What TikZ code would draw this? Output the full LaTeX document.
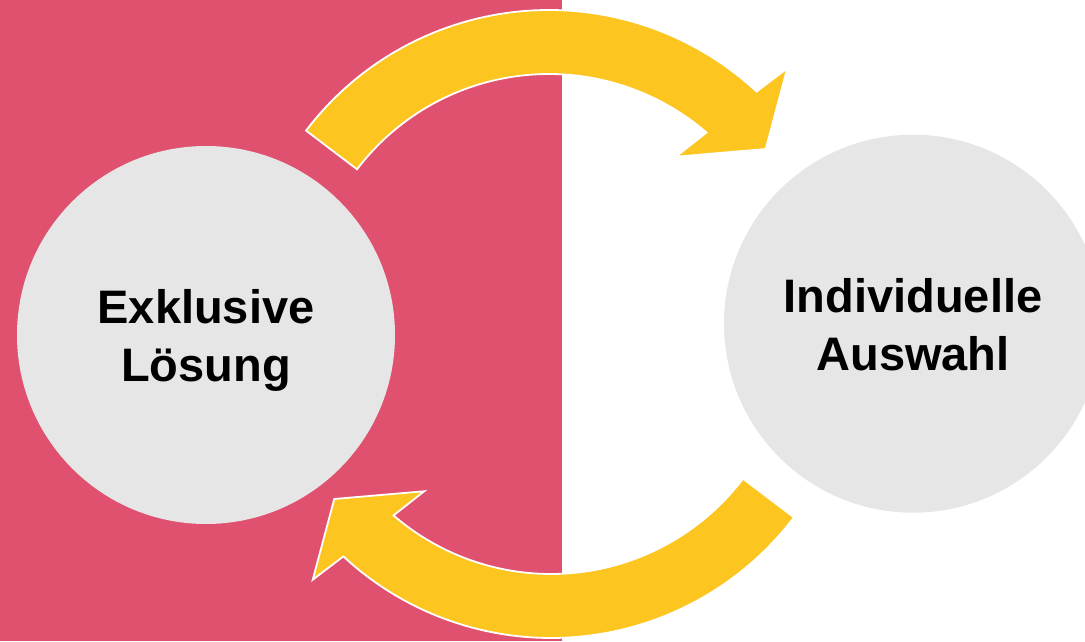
\documentclass[tikz,border=0pt]{standalone}
\usepackage{fontspec}
\setmainfont{Liberation Sans}
\definecolor{pinkbg}{HTML}{E0516F}
\definecolor{arrowyellow}{HTML}{FCC520}
\definecolor{circlegray}{HTML}{E6E6E6}
\tikzset{
  bigarrow/.pic={
    \path[fill=arrowyellow, draw=white, line width=1.8pt, line join=miter]
      (142.8:305) arc[start angle=142.8, end angle=47.1, radius=305]
      -- (46.0:343) -- (37.45:273) -- (51.3:202.8) -- (49.2:241)
      arc[start angle=49.2, end angle=142.8, radius=241] -- cycle;
  },
  bubble/.style={circle, fill=circlegray, minimum size=378pt, inner sep=0pt},
  bubbletext/.style={font=\fontsize{47}{56}\selectfont\bfseries, text=black, anchor=base, inner sep=0pt}
}
\begin{document}
\begin{tikzpicture}[x=1pt, y=1pt]
  \useasboundingbox (0,0) rectangle (1085,641);
  \clip (0,0) rectangle (1085,641);
  \fill[pinkbg] (0,0) rectangle (561.7,641);
  \node[bubble] (left) at (206,306) {};
  \node[bubble] (right) at (913,317.3) {};
  \pic at (549,326) {bigarrow};
  \pic[rotate=180] at (551,308) {bigarrow};
  \node[bubbletext] (l1) at (206,317) {Exklusive};
  \node[bubbletext] (l2) at (206,259.3) {Lösung};
  \node[bubbletext] (r1) at (913,328.3) {Individuelle};
  \node[bubbletext] (r2) at (913,271) {Auswahl};
\end{tikzpicture}
\end{document}
